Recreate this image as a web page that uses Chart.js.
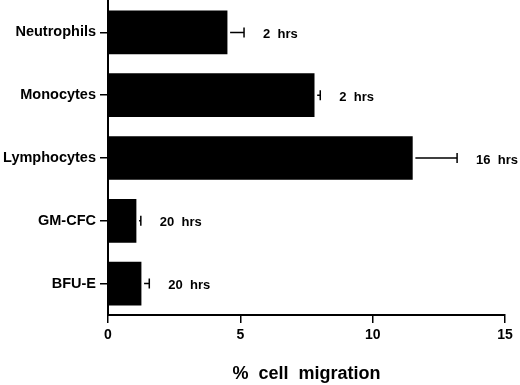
<!DOCTYPE html>
<html>
<head>
<meta charset="utf-8">
<script src="https://cdn.jsdelivr.net/npm/chart.js@4/dist/chart.umd.min.js"></script>
<style>
  html, body { margin: 0; padding: 0; background: #fff; }
  #wrap { width: 520px; height: 385px; position: relative; }
</style>
</head>
<body>
<div id="wrap"><canvas id="c" width="520" height="385"></canvas></div>
<script>
// ---- data ----
const categories = ['Neutrophils', 'Monocytes', 'Lymphocytes', 'GM-CFC', 'BFU-E'];
const migration = [4.5, 7.79, 11.5, 1.06, 1.25];      // % cell migration (bar length)
const sem = [0.64, 0.23, 1.69, 0.18, 0.31];           // error bar (upper side only)
const incubation = ['2  hrs', '2  hrs', '16  hrs', '20  hrs', '20  hrs'];
const xTicks = [0, 5, 10, 15];
const xTitle = '%  cell  migration';

const FONT = '"Liberation Sans", Arial, Helvetica, sans-serif';

const errorBarPlugin = {
  id: 'errorBars',
  afterDatasetsDraw(chart) {
    const ctx = chart.ctx;
    const xs = chart.scales.x;
    const meta = chart.getDatasetMeta(0);
    ctx.save();
    ctx.strokeStyle = '#000';
    ctx.fillStyle = '#000';
    ctx.lineWidth = 1.5;
    ctx.font = 'bold 13px ' + FONT;
    ctx.textBaseline = 'middle';
    ctx.textAlign = 'left';
    meta.data.forEach((bar, i) => {
      const y = bar.y;
      const x0 = xs.getPixelForValue(migration[i]) + 3;
      const x1 = xs.getPixelForValue(migration[i] + sem[i]);
      ctx.beginPath();
      if (x1 > x0) { ctx.moveTo(x0, y); ctx.lineTo(x1, y); }
      ctx.moveTo(x1, y - 5);
      ctx.lineTo(x1, y + 5);
      ctx.stroke();
      ctx.fillText(incubation[i], x1 + 19, y + 2);
    });
    ctx.restore();
  }
};

new Chart(document.getElementById('c'), {
  type: 'bar',
  data: {
    labels: categories,
    datasets: [{
      data: migration,
      backgroundColor: '#000',
      borderWidth: 0,
      barThickness: 43
    }]
  },
  options: {
    indexAxis: 'y',
    responsive: false,
    animation: false,
    devicePixelRatio: 1,
    layout: { padding: { left: 0, right: 15, top: 1, bottom: 0 } },
    plugins: { legend: { display: false }, tooltip: { enabled: false } },
    scales: {
      x: {
        type: 'linear',
        min: 0, max: 15,
        afterBuildTicks(scale) { scale.ticks = xTicks.map(v => ({ value: v })); },
        afterFit(scale) { scale.height = 70; },
        border: { display: true, color: '#000', width: 2 },
        grid: { display: true, drawOnChartArea: false, drawTicks: true, tickLength: 8, color: '#000', lineWidth: 1.5 },
        ticks: { color: '#000', padding: 4, font: { family: FONT, size: 14, weight: 'bold' }, maxRotation: 0 },
        title: { display: true, text: xTitle, color: '#000', padding: { top: 0, bottom: 0 }, font: { family: FONT, size: 18, weight: 'bold' } }
      },
      y: {
        afterFit(scale) { scale.width = 108; scale.paddingTop = 0; scale.paddingBottom = 0; },
        border: { display: true, color: '#000', width: 2 },
        grid: { display: true, offset: false, drawOnChartArea: false, drawTicks: true, tickLength: 8, color: '#000', lineWidth: 1.5 },
        ticks: { color: '#000', padding: 4, font: { family: FONT, size: 14.5, weight: 'bold' } }
      }
    }
  },
  plugins: [errorBarPlugin]
});
</script>
</body>
</html>
